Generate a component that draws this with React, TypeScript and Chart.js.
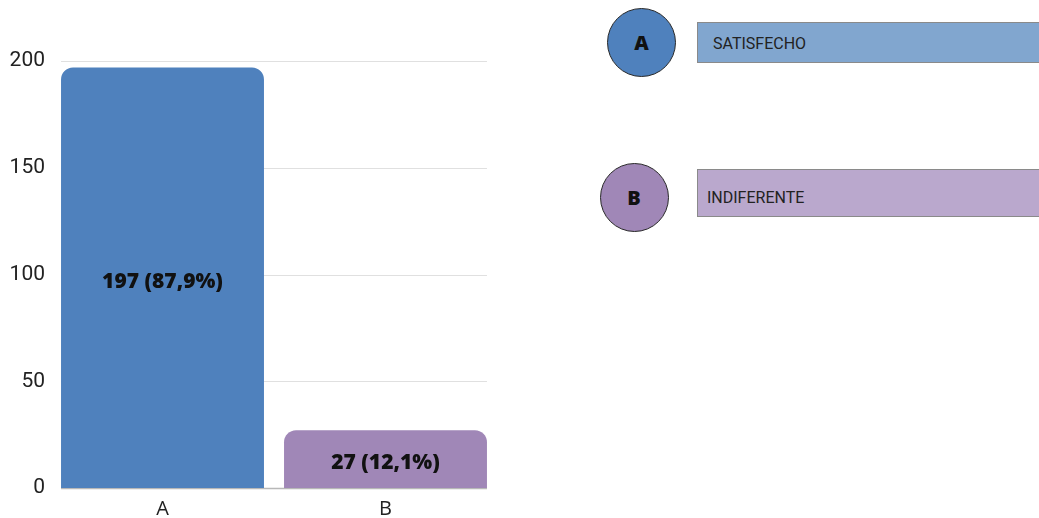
import React, { useEffect, useRef } from "react";
import { Chart, registerables } from "chart.js";

Chart.register(...registerables);

const categories = ["A", "B"];
const values = [197, 27];
const percentLabels = ["87,9%", "12,1%"];
const descriptions = ["SATISFECHO", "INDIFERENTE"];
const barColors = ["#4F81BD", "#A087B7"];
const legendBoxColors = ["#81A6CF", "#BAA8CD"];
const yTicks = [0, 50, 100, 150, 200];

const gridPlugin = {
  id: "customGrid",
  beforeDatasetsDraw(chart: any) {
    const meta = chart.getDatasetMeta(0);
    const first = meta.data[0] as any;
    const last = meta.data[meta.data.length - 1] as any;
    const left = first.x - first.width / 2;
    const right = last.x + last.width / 2;
    const y = chart.scales.y;
    const ctx = chart.ctx;
    ctx.save();
    yTicks.forEach((t) => {
      const py = Math.round(y.getPixelForValue(t)) + 0.5;
      ctx.beginPath();
      ctx.strokeStyle = t === 0 ? "#b8b8b8" : "#e0e0e0";
      ctx.lineWidth = t === 0 ? 1.5 : 1;
      ctx.moveTo(left, py);
      ctx.lineTo(right, py);
      ctx.stroke();
    });
    ctx.restore();
  },
};

const labelPlugin = {
  id: "barLabels",
  afterDatasetsDraw(chart: any) {
    const meta = chart.getDatasetMeta(0);
    const ctx = chart.ctx;
    ctx.save();
    ctx.font = "800 21px 'Open Sans'";
    ctx.fillStyle = "#111";
    ctx.textAlign = "center";
    ctx.textBaseline = "middle";
    meta.data.forEach((bar: any, i: number) => {
      const cy = (bar.y + bar.base) / 2 + 4;
      ctx.fillText(`${values[i]} (${percentLabels[i]})`, bar.x, cy);
    });
    ctx.restore();
  },
};

export default function App() {
  const ref = useRef<HTMLCanvasElement>(null);
  useEffect(() => {
    if (!ref.current) return;
    const chart = new Chart(ref.current, {
      type: "bar",
      data: {
        labels: categories,
        datasets: [
          {
            data: values,
            backgroundColor: barColors,
            borderRadius: 12,
            borderSkipped: "bottom",
            barPercentage: 0.91,
            categoryPercentage: 1,
          },
        ],
      },
      options: {
        animation: false,
        responsive: false,
        maintainAspectRatio: false,
        layout: { padding: { top: 61, right: 13, left: 0, bottom: 0 } },
        plugins: { legend: { display: false }, tooltip: { enabled: false } },
        scales: {
          x: {
            offset: true,
            grid: { display: false, drawTicks: false },
            border: { display: false },
            ticks: { font: { family: "'Open Sans'", size: 20 }, color: "#222", padding: 9 },
            afterFit: (s: any) => {
              s.height = 30;
            },
          },
          y: {
            min: 0,
            max: 200,
            afterBuildTicks: (s: any) => {
              s.ticks = yTicks.map((v) => ({ value: v }));
            },
            grid: { display: false, drawTicks: false },
            border: { display: false },
            ticks: { font: { family: "Roboto", size: 21 }, color: "#222", padding: 6 },
            afterFit: (s: any) => {
              s.width = 51;
            },
          },
        },
      },
      plugins: [gridPlugin, labelPlugin],
    });
    return () => chart.destroy();
  }, []);

  const circlePos = [
    { cx: 641.5, cy: 42, boxTop: 22, boxH: 41, textX: 713, textShift: 1 },
    { cx: 634, cy: 197, boxTop: 169, boxH: 48, textX: 707, textShift: 5 },
  ];

  return (
    <div style={{ position: "fixed", left: 0, top: 0, width: 1039, height: 518, background: "#fff", overflow: "hidden" }}>
      <canvas ref={ref} width={510} height={518} style={{ position: "absolute", left: 0, top: 0, width: 510, height: 518 }} />
      {categories.map((c, i) => {
        const p = circlePos[i];
        return (
          <React.Fragment key={c}>
            <div
              style={{
                position: "absolute",
                left: 697,
                top: p.boxTop,
                width: 360,
                height: p.boxH,
                boxSizing: "border-box",
                background: legendBoxColors[i],
                border: "1px solid #8a8a8a",
              }}
            />
            <div
              style={{
                position: "absolute",
                left: p.textX,
                top: p.boxTop + p.textShift,
                height: p.boxH,
                lineHeight: p.boxH + "px",
                fontFamily: "Roboto",
                fontSize: 16,
                color: "#222",
                whiteSpace: "nowrap",
              }}
            >
              {descriptions[i]}
            </div>
            <div
              style={{
                position: "absolute",
                left: p.cx - 34.5,
                top: p.cy - 34.5,
                width: 69,
                height: 69,
                boxSizing: "border-box",
                borderRadius: "50%",
                background: barColors[i],
                border: "1px solid #2a2a2a",
                display: "flex",
                alignItems: "center",
                justifyContent: "center",
                fontFamily: "'Open Sans'",
                fontWeight: 800,
                fontSize: 20,
                color: "#111",
              }}
            >
              {c}
            </div>
          </React.Fragment>
        );
      })}
    </div>
  );
}
